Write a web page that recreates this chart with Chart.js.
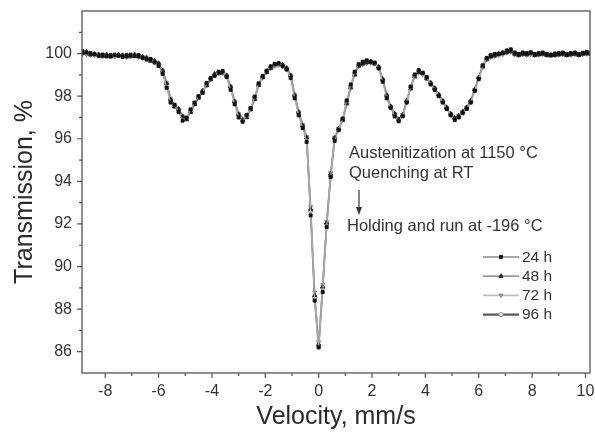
<!DOCTYPE html>
<html><head><meta charset="utf-8">
<script src="https://cdn.jsdelivr.net/npm/chart.js@4.4.0/dist/chart.umd.min.js"></script>
<style>html,body{margin:0;padding:0;background:#fff;}#wrap{width:595px;height:432px;}</style>
</head><body><div id="wrap"><canvas id="c" width="595" height="432"></canvas></div>
<script>
const velocity = [
-8.85,-8.70,-8.55,-8.40,-8.25,-8.10,-7.95,-7.80,-7.65,-7.50,
-7.35,-7.20,-7.05,-6.90,-6.75,-6.60,-6.45,-6.30,-6.15,-6.00,
-5.85,-5.70,-5.55,-5.40,-5.25,-5.10,-4.95,-4.80,-4.65,-4.50,
-4.35,-4.20,-4.05,-3.90,-3.75,-3.60,-3.45,-3.30,-3.15,-3.00,
-2.85,-2.70,-2.55,-2.40,-2.25,-2.10,-1.95,-1.80,-1.65,-1.50,
-1.35,-1.20,-1.05,-0.90,-0.75,-0.60,-0.45,-0.30,-0.15,0.00,
0.15,0.30,0.45,0.60,0.75,0.90,1.05,1.20,1.35,1.50,
1.65,1.80,1.95,2.10,2.25,2.40,2.55,2.70,2.85,3.00,
3.15,3.30,3.45,3.60,3.75,3.90,4.05,4.20,4.35,4.50,
4.65,4.80,4.95,5.10,5.25,5.40,5.55,5.70,5.85,6.00,
6.15,6.30,6.45,6.60,6.75,6.90,7.05,7.20,7.35,7.50,
7.65,7.80,7.95,8.10,8.25,8.40,8.55,8.70,8.85,9.00,
9.15,9.30,9.45,9.60,9.75,9.90,10.05,10.20];

const t24h = [
100.12,100.05,100.03,99.98,99.90,99.95,99.87,99.92,99.95,99.90,
99.85,99.92,99.95,99.88,99.92,99.80,99.72,99.75,99.58,99.42,
99.05,98.40,97.70,97.60,97.25,96.85,96.98,97.38,97.70,98.00,
98.15,98.62,98.85,98.95,99.15,99.18,98.90,98.30,97.62,97.00,
96.80,97.12,97.45,97.98,98.60,98.95,99.20,99.40,99.52,99.55,
99.40,99.25,98.85,97.90,97.10,96.50,95.85,92.40,88.40,86.20,
88.80,91.85,94.20,95.90,96.40,96.95,97.80,98.55,99.15,99.50,
99.62,99.68,99.62,99.58,99.30,98.68,97.90,97.45,97.05,96.82,
97.05,97.70,98.45,99.02,99.22,99.10,98.90,98.55,98.30,98.00,
97.70,97.40,97.10,96.88,97.00,97.20,97.40,97.70,98.25,98.80,
99.45,99.80,99.92,99.98,100.00,100.05,100.15,100.20,100.05,99.98,
100.05,100.02,100.06,99.98,100.02,100.05,99.98,99.95,100.00,100.02,
100.05,99.98,100.02,100.05,99.98,100.04,100.08,100.02];

const t48h = [
100.02,100.08,99.95,99.98,99.96,99.88,99.95,99.85,99.92,99.95,
99.92,99.85,99.88,99.95,99.85,99.85,99.80,99.65,99.65,99.55,
99.20,98.60,97.85,97.50,97.40,97.05,96.90,97.25,97.62,97.92,
98.25,98.50,98.78,99.05,99.08,99.10,98.98,98.45,97.75,97.15,
96.88,97.00,97.38,97.85,98.52,98.88,99.12,99.32,99.48,99.52,
99.48,99.32,98.98,98.05,97.25,96.62,96.05,92.70,88.65,86.35,
89.05,92.05,94.35,96.05,96.48,96.88,97.65,98.40,99.00,99.42,
99.52,99.58,99.62,99.52,99.38,98.80,98.05,97.52,97.18,96.92,
97.12,97.78,98.35,98.92,99.12,99.08,98.82,98.62,98.38,98.08,
97.78,97.48,97.18,96.98,97.08,97.28,97.48,97.78,98.32,98.88,
99.38,99.72,99.85,99.90,99.98,100.02,100.05,100.10,99.98,99.92,
99.98,99.95,100.02,99.92,99.95,99.98,99.92,99.90,99.92,99.95,
99.98,99.92,99.95,99.98,99.92,99.98,100.00,99.98];

const t72h = [
99.98,99.96,99.94,99.92,99.92,99.86,99.90,99.86,99.86,99.90,
99.88,99.84,99.86,99.90,99.85,99.80,99.76,99.68,99.60,99.48,
99.12,98.52,97.82,97.52,97.32,97.02,96.98,97.32,97.68,97.98,
98.22,98.55,98.78,98.98,99.06,99.08,98.92,98.42,97.74,97.14,
96.90,97.08,97.42,97.92,98.52,98.86,99.12,99.30,99.42,99.46,
99.42,99.28,98.92,98.02,97.24,96.64,96.08,92.80,88.80,86.45,
89.15,92.10,94.40,96.06,96.50,96.92,97.68,98.42,99.02,99.40,
99.50,99.55,99.56,99.52,99.32,98.74,98.02,97.52,97.18,96.94,
97.14,97.76,98.38,98.92,99.10,99.02,98.84,98.58,98.34,98.04,
97.76,97.46,97.18,96.98,97.08,97.26,97.46,97.74,98.28,98.82,
99.36,99.72,99.84,99.88,99.92,99.96,100.04,100.08,99.96,99.92,
99.96,99.94,99.96,99.92,99.94,99.96,99.92,99.90,99.92,99.94,
99.96,99.92,99.94,99.96,99.92,99.96,99.98,99.96];

const t96h = [
100.04,100.00,99.96,99.94,99.94,99.92,99.94,99.90,99.88,99.92,
99.92,99.90,99.88,99.94,99.90,99.84,99.80,99.72,99.64,99.52,
99.20,98.62,97.88,97.56,97.38,97.06,97.00,97.28,97.62,97.94,
98.22,98.52,98.80,99.00,99.10,99.10,98.96,98.44,97.76,97.16,
96.92,97.06,97.38,97.88,98.54,98.90,99.16,99.36,99.44,99.50,
99.46,99.32,98.98,98.06,97.26,96.66,96.06,92.60,88.55,86.25,
89.00,92.00,94.25,96.02,96.46,96.88,97.66,98.42,99.06,99.44,
99.54,99.60,99.60,99.54,99.36,98.78,98.04,97.50,97.14,96.90,
97.10,97.76,98.42,98.96,99.16,99.06,98.86,98.62,98.36,98.06,
97.76,97.44,97.14,96.96,97.06,97.26,97.46,97.76,98.30,98.86,
99.42,99.76,99.90,99.94,99.96,100.00,100.10,100.14,100.00,99.96,
100.00,99.98,100.00,99.96,99.98,100.00,99.96,99.94,99.96,99.98,
100.00,99.96,99.98,100.00,99.96,100.00,100.02,100.00];

const seriesNames = ['24 h', '48 h', '72 h', '96 h'];
const xTicks = [-8, -6, -4, -2, 0, 2, 4, 6, 8, 10];
const xMinor = [-7, -5, -3, -1, 1, 3, 5, 7, 9];
const yTicks = [86, 88, 90, 92, 94, 96, 98, 100];
const yMinor = [87, 89, 91, 93, 95, 97, 99, 101];
const notes = ['Austenitization at 1150 \u00B0C', 'Quenching at RT', 'Holding and run at -196 \u00B0C'];

const FONT = "'Liberation Sans', Arial, Helvetica, sans-serif";
Chart.defaults.font.family = FONT;

const toXY = arr => arr.map((y, i) => ({ x: velocity[i], y: y }));

const styles = [
  { line: '#a8a8a8', lw: 1.2, ps: 'rect', pr: 2.1, bg: '#111', bc: '#111', bw: 1, rot: 0 },
  { line: '#9a9a9a', lw: 1.2, ps: 'triangle', pr: 2.4, bg: '#222', bc: '#222', bw: 1, rot: 0 },
  { line: '#bdbdbd', lw: 1.2, ps: 'triangle', pr: 2.4, bg: '#999', bc: '#888', bw: 1, rot: 180 },
  { line: '#5a5a5a', lw: 1.8, ps: 'circle', pr: 2.1, bg: '#f4f4f4', bc: '#8a8a8a', bw: 1, rot: 0 }
];
const seriesData = [t24h, t48h, t72h, t96h];

const datasets = seriesData.map((d, i) => ({
  label: seriesNames[i],
  data: toXY(d),
  borderColor: styles[i].line,
  borderWidth: styles[i].lw,
  pointStyle: styles[i].ps,
  pointRadius: styles[i].pr,
  pointRotation: styles[i].rot,
  pointBackgroundColor: styles[i].bg,
  pointBorderColor: styles[i].bc,
  pointBorderWidth: styles[i].bw,
  tension: 0,
  fill: false
}));

const noPad = s => { s.paddingTop = 0; s.paddingBottom = 0; s.paddingLeft = 0; s.paddingRight = 0; };

const decor = {
  id: 'decor',
  afterDraw(chart) {
    const ctx = chart.ctx, a = chart.chartArea;
    const xs = chart.scales.x, ys = chart.scales.y;
    ctx.save();
    ctx.strokeStyle = '#555';
    ctx.lineWidth = 1.3;
    ctx.strokeRect(a.left, a.top, a.right - a.left, a.bottom - a.top);
    ctx.lineWidth = 1.2;
    ctx.beginPath();
    xTicks.forEach(v => { const p = xs.getPixelForValue(v); ctx.moveTo(p, a.bottom); ctx.lineTo(p, a.bottom + 5); });
    xMinor.forEach(v => { const p = xs.getPixelForValue(v); ctx.moveTo(p, a.bottom); ctx.lineTo(p, a.bottom + 3); });
    yTicks.forEach(v => { const p = ys.getPixelForValue(v); ctx.moveTo(a.left, p); ctx.lineTo(a.left - 5, p); });
    yMinor.forEach(v => { const p = ys.getPixelForValue(v); ctx.moveTo(a.left, p); ctx.lineTo(a.left - 3, p); });
    ctx.stroke();

    ctx.fillStyle = '#333';
    ctx.font = '16.5px ' + FONT;
    ctx.textBaseline = 'middle';
    ctx.textAlign = 'left';
    ctx.fillText(notes[0], 349, 153);
    ctx.fillText(notes[1], 349, 173);
    ctx.fillText(notes[2], 347, 226);
    ctx.strokeStyle = '#333';
    ctx.lineWidth = 1.2;
    ctx.beginPath();
    ctx.moveTo(359, 190); ctx.lineTo(359, 212);
    ctx.stroke();
    ctx.beginPath();
    ctx.moveTo(356, 207); ctx.lineTo(359, 215); ctx.lineTo(362, 207);
    ctx.closePath(); ctx.fillStyle = '#333'; ctx.fill();

    chart.data.datasets.forEach((ds, i) => {
      const y = 257 + i * 19.2;
      ctx.strokeStyle = ds.borderColor;
      ctx.lineWidth = ds.borderWidth + 0.6;
      ctx.beginPath(); ctx.moveTo(483, y); ctx.lineTo(519, y); ctx.stroke();
      ctx.fillStyle = ds.pointBackgroundColor;
      ctx.strokeStyle = ds.pointBorderColor;
      ctx.lineWidth = ds.pointBorderWidth;
      Chart.helpers.drawPoint(ctx, { pointStyle: ds.pointStyle, radius: ds.pointRadius, rotation: ds.pointRotation, borderWidth: ds.pointBorderWidth }, 501, y);
      ctx.fillStyle = '#333';
      ctx.font = '15.5px ' + FONT;
      ctx.textBaseline = 'middle';
      ctx.fillText(ds.label, 522, y + 0.5);
    });
    ctx.restore();
  }
};

new Chart(document.getElementById('c'), {
  type: 'line',
  data: { datasets: datasets },
  options: {
    responsive: false,
    animation: false,
    devicePixelRatio: 1,
    layout: { padding: { top: 11, right: 2, left: 0, bottom: 0 } },
    plugins: { legend: { display: false }, tooltip: { enabled: false } },
    scales: {
      x: {
        type: 'linear', min: -8.87, max: 10.17,
        afterBuildTicks: s => { s.ticks = xTicks.map(v => ({ value: v })); },
        afterFit: s => { s.height = 59; noPad(s); },
        grid: { display: false, drawTicks: false },
        border: { display: false },
        ticks: { font: { size: 16 }, color: '#333', padding: 9, maxRotation: 0, autoSkip: false },
        title: { display: true, text: 'Velocity, mm/s', font: { size: 25 }, color: '#2a2a2a', padding: { top: 0, bottom: 0 } }
      },
      y: {
        type: 'linear', min: 85, max: 102,
        afterBuildTicks: s => { s.ticks = yTicks.map(v => ({ value: v })); },
        afterFit: s => { s.width = 82; noPad(s); },
        grid: { display: false, drawTicks: false },
        border: { display: false },
        ticks: { font: { size: 16 }, color: '#333', padding: 10, autoSkip: false },
        title: { display: true, text: 'Transmission, %', font: { size: 25 }, color: '#2a2a2a', padding: { top: 10, bottom: 0 } }
      }
    }
  },
  plugins: [decor]
});
</script></body></html>
